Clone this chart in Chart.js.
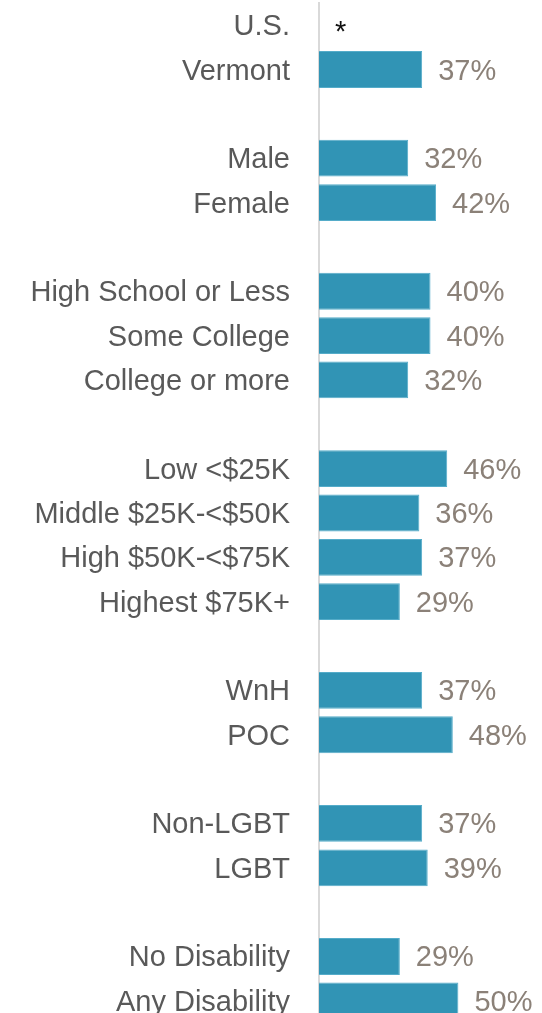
<!DOCTYPE html>
<html>
<head>
<meta charset="utf-8">
<script src="https://cdn.jsdelivr.net/npm/chart.js@4/dist/chart.umd.min.js"></script>
<style>
  html, body { margin: 0; padding: 0; background: #fff; overflow: hidden; }
  #frame { width: 542px; height: 1013px; overflow: hidden; position: relative; }
  #box { width: 542px; height: 1023px; position: absolute; left: 0; top: 0; }
</style>
</head>
<body>
<div id="frame"><div id="box"><canvas id="chart"></canvas></div></div>
<script>
// Share of adults, by group (blank entries separate the groups)
const categories = [
  'U.S.', 'Vermont', '',
  'Male', 'Female', '',
  'High School or Less', 'Some College', 'College or more', '',
  'Low <$25K', 'Middle $25K-<$50K', 'High $50K-<$75K', 'Highest $75K+', '',
  'WnH', 'POC', '',
  'Non-LGBT', 'LGBT', '',
  'No Disability', 'Any Disability'
];
const values = [
  null, 37, null,
  32, 42, null,
  40, 40, 32, null,
  46, 36, 37, 29, null,
  37, 48, null,
  37, 39, null,
  29, 50
];
// Rows with no estimate are flagged with a note marker
const noteMarkers = { 'U.S.': '*' };
const xRange = [0, 80];

const FONT = '"Liberation Sans", Arial, sans-serif';
const BAR = '#3194b5';

const valueLabels = {
  id: 'valueLabels',
  afterDatasetsDraw(chart) {
    const ctx = chart.ctx;
    const meta = chart.getDatasetMeta(0);
    const x0 = chart.scales.x.getPixelForValue(0);
    ctx.save();
    ctx.font = '29px ' + FONT;
    ctx.textAlign = 'left';
    meta.data.forEach((bar, i) => {
      const v = values[i];
      const y = chart.scales.y.getPixelForValue(i);
      if (v !== null && v !== undefined) {
        ctx.fillStyle = '#8b8178';
        ctx.textBaseline = 'middle';
        ctx.fillText(v + '%', bar.x + 16, y + 2);
      } else if (noteMarkers[categories[i]]) {
        ctx.fillStyle = '#111';
        ctx.textBaseline = 'alphabetic';
        ctx.fillText(noteMarkers[categories[i]], x0 + 16, y + 16);
      }
    });
    ctx.restore();
  }
};

new Chart(document.getElementById('chart'), {
  type: 'bar',
  data: {
    labels: categories,
    datasets: [{
      data: values,
      backgroundColor: BAR,
      borderColor: '#55acc9',
      borderWidth: 1,
      borderSkipped: 'start',
      barPercentage: 0.83,
      categoryPercentage: 1
    }]
  },
  options: {
    indexAxis: 'y',
    responsive: true,
    maintainAspectRatio: false,
    animation: false,
    layout: { padding: { top: 3, right: 0, bottom: 0, left: 0 } },
    plugins: { legend: { display: false }, tooltip: { enabled: false } },
    scales: {
      x: {
        display: false,
        min: xRange[0],
        max: xRange[1]
      },
      y: {
        afterFit(scale) {
          scale.width = 319;
          scale.paddingTop = 0;
          scale.paddingBottom = 0;
        },
        grid: { display: true, color: 'transparent', drawTicks: false },
        border: { display: true, color: '#d9d9d9', width: 2 },
        ticks: {
          color: '#595959',
          padding: 29,
          labelOffset: 2,
          autoSkip: false,
          font: { family: FONT, size: 29 }
        }
      }
    }
  },
  plugins: [valueLabels]
});
</script>
</body>
</html>
